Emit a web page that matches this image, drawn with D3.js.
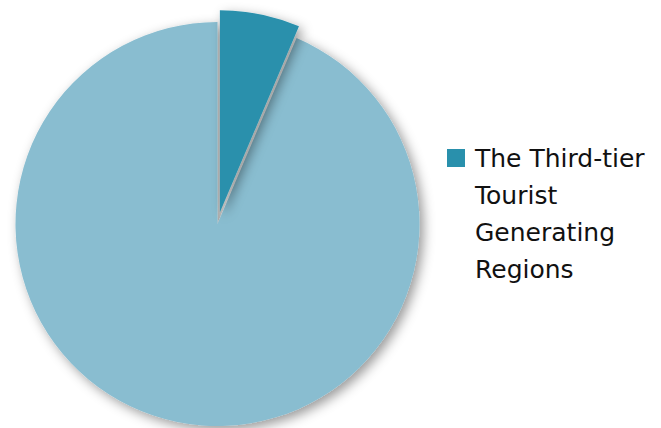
<!DOCTYPE html>
<html>
<head>
<meta charset="utf-8">
<script src="https://cdn.jsdelivr.net/npm/d3@7/dist/d3.min.js"></script>
<style>
  html, body { margin: 0; padding: 0; background: #fff; }
  svg { display: block; }
</style>
</head>
<body>
<svg id="chart" width="661" height="428"></svg>
<script>
// Share of tourist origins
const categories = ["The Third-tier Tourist Generating Regions", "Other Regions"];
const values = [6.4, 93.6];
const colors = ["#2990ac", "#89bdd0"];
const exploded = [true, false];
// Legend shows only the highlighted segment, wrapped over several lines
const legendLines = ["The Third-tier", "Tourist", "Generating", "Regions"];

const svg = d3.select("#chart");
const cx = 217.5, cy = 224, radius = 202, explodeBy = 12;

const defs = svg.append("defs");
const f = defs.append("filter").attr("id", "shadow")
  .attr("x", "-20%").attr("y", "-20%").attr("width", "140%").attr("height", "140%");
f.append("feDropShadow")
  .attr("dx", 4).attr("dy", 4).attr("stdDeviation", 6)
  .attr("flood-color", "#000").attr("flood-opacity", 0.4);

const pie = d3.pie().sort(null).value(d => d)(values);
const arc = d3.arc().innerRadius(0).outerRadius(radius);

const g = svg.append("g").attr("transform", `translate(${cx},${cy})`);

// draw the large slice first so the exploded slice's shadow falls on it
const order = d3.range(values.length).sort((a, b) => (exploded[a] ? 1 : 0) - (exploded[b] ? 1 : 0));
order.forEach(i => {
  const p = pie[i];
  const mid = (p.startAngle + p.endAngle) / 2;
  const off = exploded[i] ? explodeBy : 0;
  g.append("path")
    .attr("d", arc(p))
    .attr("fill", colors[i])
    .attr("filter", "url(#shadow)")
    .attr("transform", `translate(${Math.sin(mid) * off},${-Math.cos(mid) * off})`);
});

// legend
const lg = svg.append("g").attr("transform", "translate(447,149)");
lg.append("rect").attr("width", 18).attr("height", 18).attr("fill", colors[0]);
const text = lg.append("text")
  .attr("font-family", "DejaVu Sans, Verdana, sans-serif")
  .attr("font-size", 25)
  .attr("fill", "#111");
legendLines.forEach((line, k) => {
  text.append("tspan").attr("x", 28).attr("y", 18 + k * 37).text(line);
});
</script>
</body>
</html>
